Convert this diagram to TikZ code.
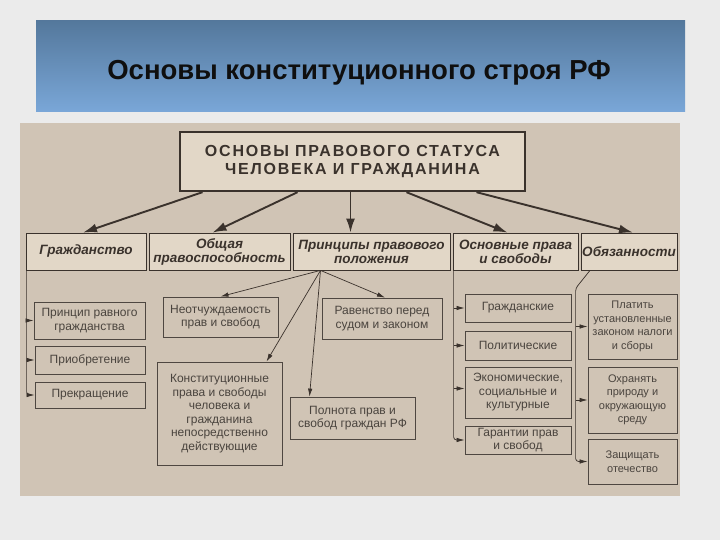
\documentclass[tikz,border=0pt]{standalone}
\usepackage{fontspec}
\setmainfont{Liberation Sans}
\newfontfamily\headfont[LetterSpace=11]{Liberation Sans}
\usetikzlibrary{arrows.meta}
\definecolor{SchPage}{RGB}{235,235,235}
\definecolor{SchBannerTop}{RGB}{84,120,156}
\definecolor{SchBannerBot}{RGB}{122,167,216}
\definecolor{SchPanel}{RGB}{208,196,181}
\definecolor{SchCream}{RGB}{226,215,199}
\definecolor{SchInk}{RGB}{58,50,44}
\definecolor{SchGrey}{RGB}{74,68,62}
\tikzset{
  sch head/.style={
    draw=SchInk,
    line width=2.4pt,
    fill=SchCream,
    text=SchInk,
    align=center,
    font=\headfont\fontsize{16}{18.5}\selectfont\bfseries,
    minimum width=345pt,
    minimum height=59pt
  },
  sch cat/.style={draw=SchInk, line width=0.8pt, fill=SchCream, text=SchInk, align=center,
    font=\fontsize{13.5}{14}\selectfont\bfseries\itshape, inner sep=1pt, minimum height=37pt},
  sch item/.style={draw=SchInk!90, line width=0.8pt, text=SchGrey, align=center,
    font=\fontsize{12}{13.5}\selectfont, inner sep=1pt},
  sch duty/.style={sch item, font=\fontsize{11}{13.5}\selectfont, minimum width=89pt},
  sch arrow/.style={-{Latex[length=14pt,width=9pt]}, line width=1.9pt, SchInk},
  sch link/.style={-{Latex[length=8pt,width=4.5pt]}, line width=0.7pt, SchInk}
}
\begin{document}
\begin{tikzpicture}[x=1pt,y=-1pt]
\fill[SchPage] (0,0) rectangle (720,540);
\shade[top color=SchBannerTop, bottom color=SchBannerBot] (36,21) rectangle (685,112);
\node[font=\fontsize{27.5}{32}\selectfont\bfseries, text=black!94] (title) at (359,73) {Основы конституционного строя РФ};
\fill[SchPanel] (20,123) rectangle (680,496);

\node[sch head] (status) at (352.5,161.5) {ОСНОВЫ ПРАВОВОГО СТАТУСА\\ЧЕЛОВЕКА И ГРАЖДАНИНА};
\node[sch cat, minimum width=120pt] (grazh) at (86,251.5) {Гражданство};
\node[sch cat, minimum width=141pt] (obsh) at (219.5,251.5) {Общая\\правоспособность};
\node[sch cat, minimum width=157pt] (princ) at (371.5,251.5) {Принципы правового\\положения};
\node[sch cat, minimum width=125pt] (osnov) at (515.5,251.5) {Основные права\\и свободы};
\node[sch cat, minimum width=96pt] (obyaz) at (629,251.5) {Обязанности};

\node[sch item, minimum width=111pt, minimum height=37pt] (prinr) at (89.5,320.5) {Принцип равного\\гражданства};
\node[sch item, minimum width=110pt, minimum height=28pt] (priobr) at (90,360) {Приобретение};
\node[sch item, minimum width=110pt, minimum height=26pt] (prekr) at (90,395) {Прекращение};
\node[sch item, minimum width=115pt, minimum height=40pt] (neotch) at (220.5,317) {Неотчуждаемость\\прав и свобод};
\node[sch item, minimum width=125pt, minimum height=103pt] (konst) at (219.5,413.5) {Конституционные\\права и свободы\\человека и\\гражданина\\непосредственно\\действующие};
\node[sch item, minimum width=120pt, minimum height=41pt] (raven) at (382,318.5) {Равенство перед\\судом и законом};
\node[sch item, minimum width=125pt, minimum height=42pt] (poln) at (352.5,418) {Полнота прав и\\свобод граждан РФ};
\node[sch item, minimum width=106pt, minimum height=28pt] (grazhd) at (518,308) {Гражданские};
\node[sch item, minimum width=106pt, minimum height=29pt] (polit) at (518,345.5) {Политические};
\node[sch item, minimum width=106pt, minimum height=51pt] (ekon) at (518,392.5) {Экономические,\\социальные и\\культурные};
\node[sch item, minimum width=106pt, minimum height=28pt] (garant) at (518,440) {Гарантии прав\\и свобод};
\node[sch duty, minimum height=65pt] (platit) at (632.5,326.5) {Платить\\установленные\\законом налоги\\и сборы};
\node[sch duty, minimum height=66pt] (ohran) at (632.5,400) {Охранять\\природу и\\окружающую\\среду};
\node[sch duty, minimum height=45pt] (zasch) at (632.5,461.5) {Защищать\\отечество};

\draw[sch arrow] ([xshift=-150pt]status.south)--([xshift=-3pt]grazh.north);
\draw[sch arrow] ([xshift=-55pt]status.south)--([xshift=-7pt]obsh.north);
\draw[sch arrow] ([xshift=-2pt]status.south)--([xshift=-21pt]princ.north);
\draw[sch arrow] ([xshift=54pt]status.south)--([xshift=-8pt]osnov.north);
\draw[sch arrow] ([xshift=124pt]status.south)--([xshift=4pt]obyaz.north);

\coordinate (pfan) at ([xshift=-51pt]princ.south);
\draw[sch link] (pfan)--(neotch.north);
\draw[sch link] (pfan)--([xshift=3pt]raven.north);
\draw[sch link] (pfan)--([xshift=47pt]konst.north);
\draw[sch link] (pfan)--([xshift=-43pt]poln.north);

\coordinate (gline) at ([xshift=1pt]grazh.south west);
\draw[sch link, rounded corners=3pt] (gline)|-(prekr.west);
\draw[sch link] (gline|-prinr.west)--(prinr.west);
\draw[sch link] (gline|-priobr.west)--(priobr.west);

\coordinate (sline) at ([xshift=1pt]osnov.south west);
\draw[sch link, rounded corners=3pt] (sline)|-(garant.west);
\draw[sch link] (sline|-grazhd.west)--(grazhd.west);
\draw[sch link] (sline|-polit.west)--(polit.west);
\draw[sch link] ([yshift=4pt]sline|-ekon.west)--([yshift=4pt]ekon.west);

\coordinate (oline) at ([xshift=-5pt,yshift=-18pt]obyaz.south west);
\draw[sch link, rounded corners=3pt] ([xshift=-39pt]obyaz.south)--(oline)|-(zasch.west);
\draw[sch link] (oline|-platit.west)--(platit.west);
\draw[sch link] (oline|-ohran.west)--(ohran.west);
\end{tikzpicture}
\end{document}
